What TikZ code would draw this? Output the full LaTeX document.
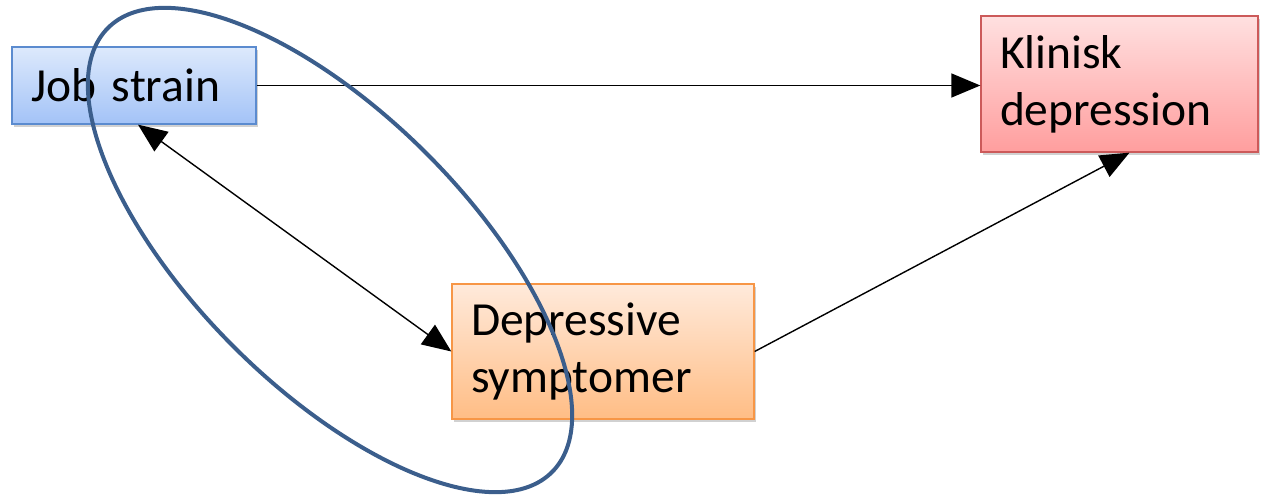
\documentclass[tikz,border=0pt]{standalone}
\usepackage{fontspec}
\setmainfont{Carlito}
\usetikzlibrary{arrows.meta,shadows}
\definecolor{ellcol}{HTML}{3B5E8C}
\definecolor{blueborder}{HTML}{5B8BCF}
\definecolor{bluetop}{HTML}{DDE9FC}
\definecolor{bluebot}{HTML}{A3C3F7}
\definecolor{redborder}{HTML}{CC5A5A}
\definecolor{redtop}{HTML}{FFE0E0}
\definecolor{redbot}{HTML}{FF9E9E}
\definecolor{orborder}{HTML}{F79646}
\definecolor{ortop}{HTML}{FFEADB}
\definecolor{orbot}{HTML}{FFBD85}
\begin{document}
\begin{tikzpicture}[x=1pt,y=1pt,
  box/.style={draw, line width=1.3pt, rectangle, align=left, inner xsep=19pt, inner ysep=0pt,
    font=\fontsize{47.5}{57}\selectfont,
    drop shadow={shadow xshift=2pt, shadow yshift=-3pt, opacity=0.3, fill=black!60}},
  bluebox/.style={box, draw=blueborder, top color=bluetop, bottom color=bluebot},
  redbox/.style={box, draw=redborder, top color=redtop, bottom color=redbot},
  orbox/.style={box, draw=orborder, top color=ortop, bottom color=orbot},
  conn/.style={line width=1.4pt, draw=black},
  tip/.style={-{Triangle[length=29pt,width=24pt]}},
  ell/.style={draw=ellcol, line width=4pt}
]
\useasboundingbox (0,0) rectangle (1268,495);
\node[bluebox, minimum width=244pt, minimum height=77pt, text width=206pt] (job) at (134,409.5) {Job strain};
\node[redbox, minimum width=277pt, minimum height=136pt, text width=239pt] (klin) at (1119.5,411) {Klinisk\\depression};
\node[orbox, minimum width=302pt, minimum height=135pt, text width=264pt] (dep) at (603,143.5) {Depressive\\symptomer};

\draw[conn, tip] (job.east) -- (job.east -| klin.west);
\draw[conn, {Triangle[length=29pt,width=24pt]}-{Triangle[length=29pt,width=24pt]}] ([xshift=4pt]job.south) -- (dep.west);
\draw[conn, tip] (dep.east) -- ([xshift=10pt]klin.south);

\coordinate (ec) at (330,245);
\draw[ell, rotate around={-45:(ec)}] (ec) ellipse [x radius=314, y radius=136.5];
\end{tikzpicture}
\end{document}
